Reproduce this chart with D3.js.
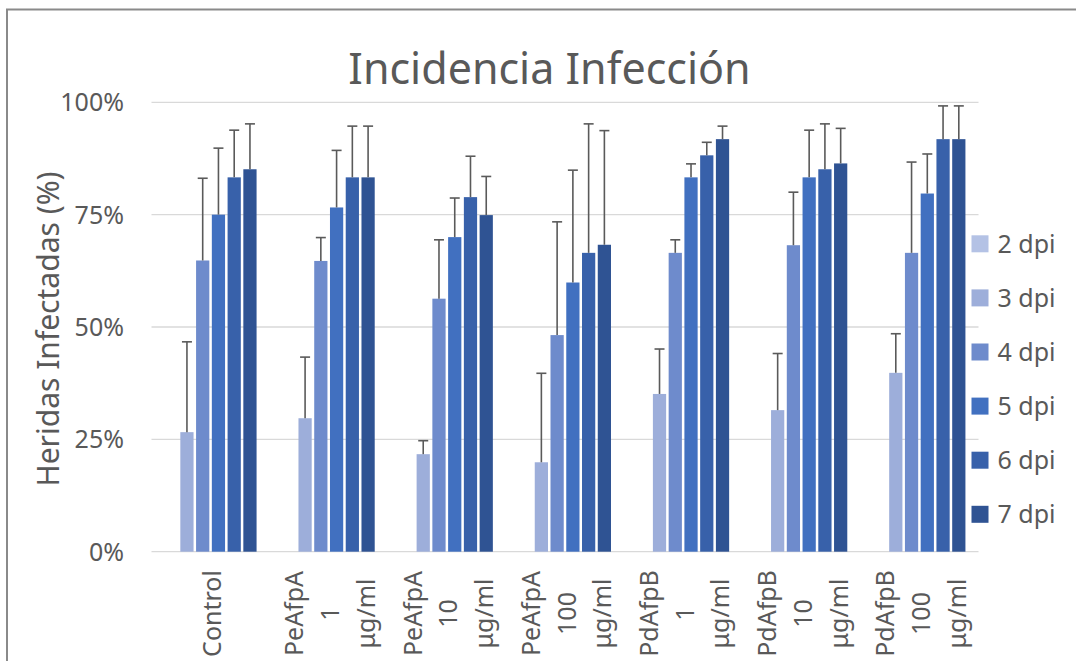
<!DOCTYPE html>
<html>
<head>
<meta charset="utf-8">
<script src="https://cdn.jsdelivr.net/npm/d3@7"></script>
<style>
  html, body { margin: 0; padding: 0; background: #fff; }
  svg { display: block; font-family: "Noto Sans", "Open Sans", sans-serif; }
</style>
</head>
<body>
<svg id="chart" width="1076" height="661"></svg>
<script>
// ---- data ----
const categories = ["Control", "PeAfpA 1 μg/ml", "PeAfpA 10 μg/ml", "PeAfpA 100 μg/ml", "PdAfpB 1 μg/ml", "PdAfpB 10 μg/ml", "PdAfpB 100 μg/ml"];
const categoryLines = [["Control"], ["PeAfpA", "1", "μg/ml"], ["PeAfpA", "10", "μg/ml"], ["PeAfpA", "100", "μg/ml"], ["PdAfpB", "1", "μg/ml"], ["PdAfpB", "10", "μg/ml"], ["PdAfpB", "100", "μg/ml"]];
const seriesNames = ["2 dpi", "3 dpi", "4 dpi", "5 dpi", "6 dpi", "7 dpi"];
const dpi2 = [0, 0, 0, 0, 0, 0, 0];
const dpi3 = [26.6, 29.7, 21.7, 19.9, 35.1, 31.5, 39.8];
const dpi4 = [64.8, 64.7, 56.3, 48.2, 66.5, 68.2, 66.5];
const dpi5 = [75.0, 76.6, 70.0, 59.9, 83.3, 83.3, 79.7];
const dpi6 = [83.3, 83.3, 78.9, 66.5, 88.2, 85.1, 91.8];
const dpi7 = [85.1, 83.3, 74.9, 68.3, 91.8, 86.4, 91.8];
const err2 = [0, 0, 0, 0, 0, 0, 0];
const err3 = [20.1, 13.6, 3.0, 19.8, 10.0, 12.6, 8.7];
const err4 = [18.3, 5.2, 13.1, 25.2, 2.9, 11.8, 20.2];
const err5 = [14.8, 12.7, 8.7, 25.0, 3.0, 10.5, 8.8];
const err6 = [10.5, 11.4, 9.1, 28.7, 2.9, 10.1, 7.4];
const err7 = [10.1, 11.4, 8.6, 25.4, 2.9, 7.8, 7.4];
const yTicks = [0, 25, 50, 75, 100];
const yTickLabels = ["0%", "25%", "50%", "75%", "100%"];
const title = "Incidencia Infección";
const yTitle = "Heridas Infectadas (%)";

const seriesValues = [dpi2, dpi3, dpi4, dpi5, dpi6, dpi7];
const seriesErrors = [err2, err3, err4, err5, err6, err7];
const colors = ["#B4C2E5", "#9DAEDA", "#6E8BCC", "#4170C0", "#3861AA", "#2F5393"];

// ---- layout ----
const svg = d3.select("#chart");
const plot = { left: 151.5, right: 978.5, top: 102.3, bottom: 551.7 };
const textColor = "#595959";

// frame
svg.append("rect").attr("x", 7).attr("y", 9.5).attr("width", 1200).attr("height", 1000)
  .attr("fill", "none").attr("stroke", "#8a8a8a").attr("stroke-width", 2);

const x0 = d3.scaleBand().domain(categories).range([plot.left, plot.right]).paddingInner(0.2).paddingOuter(0.1);
const x1 = d3.scaleBand().domain(seriesNames).range([0, x0.bandwidth()]).paddingInner(0.16).paddingOuter(0.08);
const y = d3.scaleLinear().domain([0, 100]).range([plot.bottom, plot.top]);

// gridlines
svg.append("g").selectAll("line").data(yTicks).join("line")
  .attr("x1", plot.left).attr("x2", plot.right)
  .attr("y1", d => y(d)).attr("y2", d => y(d))
  .attr("stroke", "#d9d9d9").attr("stroke-width", 1.3);

// y tick labels
svg.append("g").selectAll("text").data(yTicks).join("text")
  .attr("x", 124).attr("y", d => y(d)).attr("dy", "0.36em")
  .attr("text-anchor", "end").attr("fill", textColor)
  .style("font-size", "25px")
  .text((d, i) => yTickLabels[i]);

// bars
const rows = [];
seriesNames.forEach((s, si) => {
  categories.forEach((c, ci) => {
    rows.push({ s, si, c, ci, v: seriesValues[si][ci], e: seriesErrors[si][ci] });
  });
});

svg.append("g").selectAll("rect").data(rows.filter(r => r.v > 0)).join("rect")
  .attr("x", r => x0(r.c) + x1(r.s))
  .attr("width", x1.bandwidth())
  .attr("y", r => y(r.v))
  .attr("height", r => y(0) - y(r.v))
  .attr("fill", r => colors[r.si]);

// error bars (plus direction)
const eg = svg.append("g").attr("stroke", "#5a5a5a").attr("stroke-width", 1.6);
rows.filter(r => r.v > 0 && r.e > 0).forEach(r => {
  const cx = x0(r.c) + x1(r.s) + x1.bandwidth() / 2;
  eg.append("line").attr("x1", cx).attr("x2", cx).attr("y1", y(r.v)).attr("y2", y(r.v + r.e));
  eg.append("line").attr("x1", cx - 5).attr("x2", cx + 5).attr("y1", y(r.v + r.e)).attr("y2", y(r.v + r.e));
});

// x category labels (rotated, wrapped)
const lineSpacing = 35.8;
const lg = svg.append("g");
categoryLines.forEach((lines, ci) => {
  const cx = x0(categories[ci]) + x0.bandwidth() / 2;
  lines.forEach((t, li) => {
    const mid = cx + 1.5 + (li - (lines.length - 1) / 2) * lineSpacing;
    lg.append("text")
      .attr("transform", `translate(${mid + 9},613.5) rotate(-90)`)
      .attr("text-anchor", "middle").attr("fill", textColor)
      .style("font-size", "25px")
      .text(t);
  });
});

// title
svg.append("text").attr("x", 549.5).attr("y", 83.5).attr("text-anchor", "middle")
  .attr("fill", textColor).style("font-size", "43px").text(title);

// y axis title
svg.append("text").attr("transform", "translate(58.5,329) rotate(-90)")
  .attr("text-anchor", "middle").attr("fill", textColor)
  .style("font-size", "30px").text(yTitle);

// legend
const leg = svg.append("g").selectAll("g").data(seriesNames).join("g")
  .attr("transform", (d, i) => `translate(971.5,${243.8 + i * 54.1})`);
leg.append("rect").attr("x", 0).attr("y", -8.5).attr("width", 17).attr("height", 17)
  .attr("fill", (d, i) => colors[i]);
leg.append("text").attr("x", 26).attr("y", 0).attr("dy", "0.36em")
  .attr("fill", textColor).style("font-size", "25px").text(d => d);
</script>
</body>
</html>
